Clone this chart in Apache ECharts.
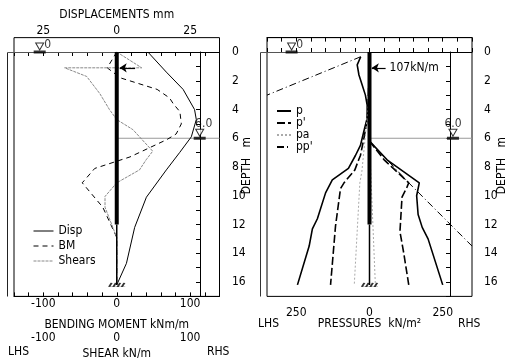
<!DOCTYPE html>
<html>
<head>
<meta charset="utf-8">
<script src="https://cdn.jsdelivr.net/npm/echarts@6/dist/echarts.min.js"></script>
<style>
html, body { margin: 0; padding: 0; background: #fff; }
#main { width: 509px; height: 358px; }
</style>
</head>
<body>
<div id="main"></div>
<script>
const FONT = '"DejaVu Sans Condensed", "Liberation Sans Narrow", sans-serif';

// wall and site
const strutDepth = 1.1;
const strutForce = 107;
const stiffDepth = 12;
const toeDepth = 16.2;
const waterLHS = 0;
const waterRHS = 6.0;

// left panel: displacement (mm), bending moment (kNm/m), shear (kN/m)
const dispDepth = [0, 1.4, 2.6, 4.0, 4.7, 5.9, 7.0, 8.2, 10.1, 12.2, 14.7, 16.2];
const dispVal = [10.6, 16.9, 22.6, 26.5, 27.1, 25.4, 21.4, 16.9, 10.1, 6.1, 3.3, 0];

const bmDepth = [0, 1.1, 1.8, 2.6, 3.2, 3.6, 4.15, 5.0, 5.7, 6.1, 7.3, 8.1, 9.1, 10.8, 12.9, 16.2];
const bmVal = [0, -13, 5, 55, 72, 77, 86, 88, 81, 68, 18, -30, -47, -19, 0, 0];

const shearDepth = [0, 1.1, 1.1, 1.7, 2.9, 4.0, 4.7, 5.4, 6.9, 7.5, 8.2, 9.1, 10.05, 10.8, 12.9, 16.2];
const shearVal = [0, 34, -71, -41, -23, -10, 0, 22, 49, 40, 31, 0, -16, -16, 0, 0];

// right panel: pressures (kN/m2), LHS negative, RHS positive
const pLhsDepth = [0.33, 0.9, 1.6, 2.3, 3.0, 3.7, 4.6, 5.5, 6.5, 7.2, 8.1, 8.9, 9.8, 11.6, 12.3, 13.5, 16.2];
const pLhs = [-30, -42, -36, -25, -14, -8, -8, -19, -31, -48, -72, -127, -150, -178, -195, -206, -246];
const pRhsDepth = [6.2, 7.5, 9.1, 10.0, 11.3, 12.2, 13.0, 16.2];
const pRhs = [0, 60, 170, 161, 166, 180, 200, 250];

const peLhsDepth = [2.5, 4.0, 5.0, 6.0, 7.2, 7.5, 8.2, 9.1, 9.5, 12.1, 16.2];
const peLhs = [-3, -5, -10, -19, -31, -37, -50, -87, -99, -116, -133];
const peRhsDepth = [6.2, 7.5, 9.1, 9.4, 10.1, 12.5, 14.0, 16.2];
const peRhs = [0, 50, 134, 128, 111, 104, 117, 134];

const paLhsDepth = [3.5, 6.0, 8.3, 9.1, 16.2];
const paLhs = [-3, -15, -26, -33, -52];
const paRhsDepth = [6.2, 16.2];
const paRhs = [0, 20];

const ppLhsDepth = [0.33, 3.0];
const ppLhs = [-30, -350];
const ppRhsDepth = [6.2, 9.1, 13.5];
const ppRhs = [0, 134, 350];

const pts = (vals, depths) => depths.map((d, i) => [vals[i], d]);
const txt = { color: '#000', fontFamily: FONT, fontSize: 12 };

function curve(name, xi, yi, data, lineStyle, id) {
  return { id, name, type: 'line', xAxisIndex: xi, yAxisIndex: yi, data, symbol: 'none',
    itemStyle: { color: '#000' }, lineStyle, silent: true, z: 3 };
}
function guide(xi, yi, data, color) {
  return { type: 'line', xAxisIndex: xi, yAxisIndex: yi, data, symbol: 'none', silent: true,
    lineStyle: { color, width: 1 }, z: 1 };
}
function water(xi, yi, x, level, text, pos) {
  return [
    { type: 'scatter', xAxisIndex: xi, yAxisIndex: yi, data: [[x, level]], silent: true,
      symbol: 'path://M0,0 L10,0 L5,8 Z', symbolSize: [8, 7], symbolOffset: [0, -5.5],
      itemStyle: { color: '#fff', borderColor: '#000', borderWidth: 1 }, z: 5,
      label: Object.assign({ show: true, formatter: text }, pos, txt) },
    { type: 'scatter', xAxisIndex: xi, yAxisIndex: yi, data: [[x, level]], silent: true,
      symbol: 'rect', symbolSize: [12, 3], itemStyle: { color: '#000' }, z: 5 }
  ];
}
function wall(xi, yi, arrowFrom, arrowTo, label) {
  return [
    { type: 'line', xAxisIndex: xi, yAxisIndex: yi, data: [[0, 0], [0, stiffDepth]], symbol: 'none',
      silent: true, lineStyle: { color: '#000', width: 4 }, z: 6,
      markLine: { silent: true, symbol: ['none', 'arrow'], symbolSize: 7, animation: false,
        lineStyle: { color: '#000', width: 1.2, type: 'solid' },
        label: label ? Object.assign({ show: true, position: 'start', distance: 4, formatter: label }, txt) : { show: false },
        data: [[{ coord: [arrowFrom, strutDepth] }, { coord: [arrowTo, strutDepth] }]] } },
    { type: 'line', xAxisIndex: xi, yAxisIndex: yi, data: [[0, stiffDepth], [0, toeDepth]], symbol: 'none',
      silent: true, lineStyle: { color: '#000', width: 1.5 }, z: 6 },
    { type: 'scatter', xAxisIndex: xi, yAxisIndex: yi, data: [[0, toeDepth]], silent: true,
      symbol: 'path://M0,6 L20,6 M1,6 L4,0 M6,6 L9,0 M11,6 L14,0 M16,6 L19,0',
      symbolSize: [17, 4], z: 6,
      itemStyle: { color: 'rgba(0,0,0,0)', borderColor: '#000', borderWidth: 1 } }
  ];
}

const tick = { show: true, inside: true, length: 4, lineStyle: { color: '#000', width: 1 } };
const line = { show: true, lineStyle: { color: '#000', width: 1 } };
const pick = (keep, abs) => v => keep.includes(v) ? String(abs ? Math.abs(v) : v) : '';

const depthAxis = (gi, gap) => ({
  type: 'value', gridIndex: gi, position: 'right', inverse: true, min: 0, max: 17, interval: 1,
  axisLine: line, axisTick: tick, splitLine: { show: false },
  axisLabel: Object.assign({ margin: 6, formatter: v => v % 2 === 0 ? String(v) : '' }, txt),
  name: '     DEPTH   m', nameLocation: 'middle', nameRotate: 90, nameGap: gap, nameMoveOverlap: false,
  nameTextStyle: txt
});
const hiddenY = gi => ({ type: 'value', gridIndex: gi, show: false, inverse: true, min: -1, max: 17 });

const chart = echarts.init(document.getElementById('main'));
chart.setOption({
  animation: false,
  backgroundColor: '#fff',
  textStyle: { fontFamily: FONT },
  grid: [
    { left: 14, top: 37.625, width: 205.5, height: 258.75, show: true, borderColor: '#000', borderWidth: 1, outerBoundsMode: 'none' },
    { left: 200, top: 52, width: 26, height: 244.375, outerBoundsMode: 'none' },
    { left: 267, top: 37.625, width: 205, height: 258.75, show: true, borderColor: '#000', borderWidth: 1, outerBoundsMode: 'none' },
    { left: 450, top: 52, width: 28, height: 244.375, outerBoundsMode: 'none' }
  ],
  xAxis: [
    { type: 'value', gridIndex: 0, position: 'top', min: -35, max: 35, interval: 5,
      axisLine: line, axisTick: tick, splitLine: { show: false },
      axisLabel: Object.assign({ margin: 1, formatter: pick([-25, 0, 25], true) }, txt),
      name: 'DISPLACEMENTS mm', nameLocation: 'middle', nameGap: 17, nameMoveOverlap: false, nameTextStyle: txt },
    { type: 'value', gridIndex: 0, position: 'bottom', min: -140, max: 140, interval: 20,
      axisLine: line, axisTick: tick, splitLine: { show: false },
      axisLabel: Object.assign({ margin: 1, formatter: pick([-100, 0, 100]) }, txt),
      name: 'BENDING MOMENT kNm/m', nameLocation: 'middle', nameGap: 22, nameMoveOverlap: false, nameTextStyle: txt },
    { type: 'value', gridIndex: 0, position: 'bottom', offset: 34, min: -140, max: 140, interval: 20,
      axisLine: { show: false }, axisTick: { show: false }, splitLine: { show: false },
      axisLabel: Object.assign({ margin: 1, formatter: pick([-100, 0, 100]) }, txt),
      name: 'SHEAR kN/m', nameLocation: 'middle', nameGap: 17, nameMoveOverlap: false, nameTextStyle: txt },
    { type: 'value', gridIndex: 1, show: false, min: 0, max: 1 },
    { type: 'value', gridIndex: 2, position: 'bottom', min: -350, max: 350, interval: 50,
      axisLine: line, axisTick: tick, splitLine: { show: false },
      axisLabel: Object.assign({ margin: 10, formatter: pick([-250, 0, 250], true) }, txt),
      name: 'PRESSURES  kN/m²', nameLocation: 'middle', nameGap: 21, nameMoveOverlap: false, nameTextStyle: txt },
    { type: 'value', gridIndex: 2, position: 'top', min: -350, max: 350, interval: 50,
      axisLine: line, axisTick: tick, splitLine: { show: false }, axisLabel: { show: false } },
    { type: 'value', gridIndex: 3, show: false, min: 0, max: 1 }
  ],
  yAxis: [hiddenY(0), depthAxis(1, 15), hiddenY(2), depthAxis(3, 18)],
  legend: [
    { data: ['Disp', 'BM', 'Shears'], orient: 'vertical', left: 28, top: 220, itemWidth: 20, itemHeight: 10,
      itemGap: 3, selectedMode: false, itemStyle: { opacity: 0 }, lineStyle: { width: 1 }, textStyle: txt },
    { data: ['p', "p'", 'pa', "pp'"], orient: 'vertical', left: 271, top: 100, itemWidth: 14, itemHeight: 9,
      itemGap: 0, selectedMode: false, itemStyle: { opacity: 0 },
      textStyle: Object.assign({ lineHeight: 11 }, txt) }
  ],
  series: [
    guide(1, 0, [[0, waterRHS], [140, waterRHS]], '#999'),
    ...water(1, 0, -105, waterLHS, '0', { position: 'right', distance: 0, offset: [0, -2] }),
    ...water(1, 0, 113, waterRHS, '6.0', { position: 'top', distance: 0, offset: [4, 1] }),
    curve('Disp', 0, 0, pts(dispVal, dispDepth), { color: '#000', width: 1 }),
    curve('BM', 1, 0, pts(bmVal, bmDepth), { color: '#000', width: 1, type: [5, 4] }, 'bm'),
    curve('Shears', 2, 0, pts(shearVal, shearDepth), { color: '#888', width: 1, type: [3, 1] }),
    ...wall(1, 0, 25, 4, null),

    guide(4, 2, [[0, waterRHS], [350, waterRHS]], '#999'),
    ...water(4, 2, -266, waterLHS, '0', { position: 'right', distance: 0, offset: [0, -2] }),
    ...water(4, 2, 285, waterRHS, '6.0', { position: 'top', distance: 0, offset: [0, 1] }),
    curve('p', 4, 2, pts(pLhs, pLhsDepth), { color: '#000', width: 1.6 }, 'pl'),
    curve('p', 4, 2, pts(pRhs, pRhsDepth), { color: '#000', width: 1.6 }),
    curve("p'", 4, 2, pts(peLhs, peLhsDepth), { color: '#000', width: 1.6, type: [8, 3] }),
    curve("p'", 4, 2, pts(peRhs, peRhsDepth), { color: '#000', width: 1.6, type: [8, 3] }),
    curve('pa', 4, 2, pts(paLhs, paLhsDepth), { color: '#aaa', width: 1, type: [2, 2] }),
    curve('pa', 4, 2, pts(paRhs, paRhsDepth), { color: '#aaa', width: 1, type: [2, 2] }),
    curve("pp'", 4, 2, pts(ppLhs, ppLhsDepth), { color: '#000', width: 1, type: [7, 3, 1, 3] }),
    curve("pp'", 4, 2, pts(ppRhs, ppRhsDepth), { color: '#000', width: 1, type: [7, 3, 1, 3] }),
    ...wall(4, 2, 55, 8, strutForce + 'kN/m')
  ]
});

// LHS boundary lines and ground-water line at 0, partly outside the frames
function seg(sid, a, b, color) {
  const p1 = chart.convertToPixel({ seriesId: sid }, a);
  const p2 = chart.convertToPixel({ seriesId: sid }, b);
  const r = v => Math.round(v) + 0.5;
  return { type: 'line', silent: true, z: 1,
    shape: { x1: r(p1[0]), y1: r(p1[1]), x2: r(p2[0]), y2: r(p2[1]) },
    style: { stroke: color, lineWidth: 1 } };
}
const label = (x, y, text) => ({ type: 'text', left: x, top: y, silent: true,
  style: { text, font: '12px ' + FONT, fill: '#000' } });

chart.setOption({
  graphic: [
    label(8, 346, 'LHS'), label(207, 346, 'RHS'), label(258, 318, 'LHS'), label(458, 318, 'RHS'),
    seg('bm', [-150, 0], [-150, 17], '#222'),
    seg('bm', [-150, waterLHS], [0, waterLHS], '#555'),
    seg('pl', [-375, 0], [-375, 17], '#333'),
    seg('pl', [-375, waterLHS], [0, waterLHS], '#555')
  ]
});
</script>
</body>
</html>
